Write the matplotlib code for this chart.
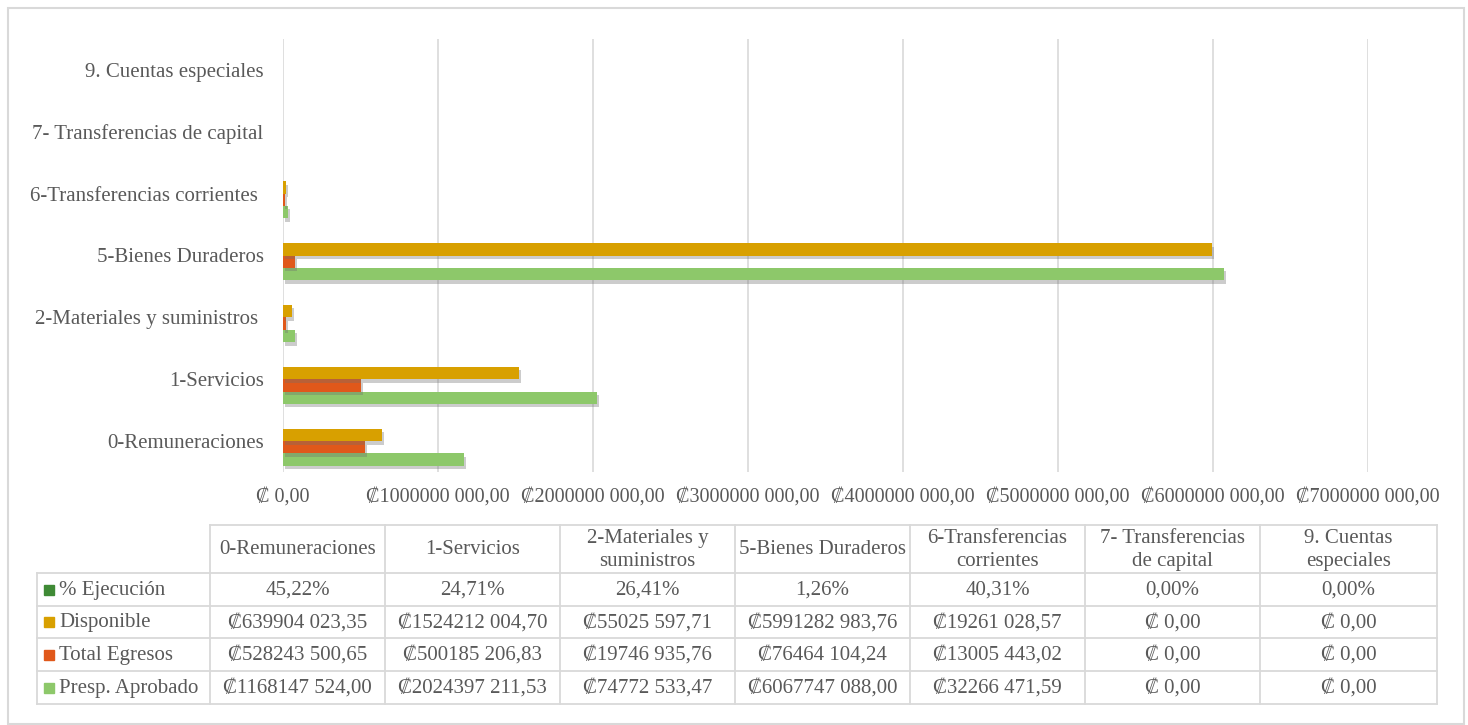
"""
Presupuesto por partida: aprobado, egresos, disponible y % de ejecucion
"""

import numpy as np
import matplotlib.pyplot as plt
import matplotlib.patheffects as pe
from matplotlib.patches import Rectangle

plt.rcParams['font.family'] = ['Liberation Serif', 'DejaVu Serif']

categorias = ['0-Remuneraciones', '1-Servicios', '2-Materiales y suministros ',
              '5-Bienes Duraderos', '6-Transferencias corrientes ',
              '7- Transferencias de capital', '9. Cuentas especiales']
encabezados = ['0-Remuneraciones', '1-Servicios', '2-Materiales y\nsuministros',
               '5-Bienes Duraderos', '6-Transferencias\ncorrientes',
               '7- Transferencias\nde capital', '9. Cuentas\nespeciales']

aprobado = [1168147524.00, 2024397211.53, 74772533.47, 6067747088.00, 32266471.59, 0.0, 0.0]
egresos = [528243500.65, 500185206.83, 19746935.76, 76464104.24, 13005443.02, 0.0, 0.0]
disponible = [639904023.35, 1524212004.70, 55025597.71, 5991282983.76, 19261028.57, 0.0, 0.0]
ejecucion = [45.22, 24.71, 26.41, 1.26, 40.31, 0.00, 0.00]

series = ['Presp. Aprobado', 'Total Egresos', 'Disponible', '% Ejecución']
colores = ['#8DC86A', '#E0581A', '#D8A000', '#3F8A35']
x_ticks = np.arange(0, 7e9 + 1, 1e9)

gris = '#595959'
linea = '#D9D9D9'
fs = 15


def colones(v):
    if v == 0:
        return '₡ 0,00'
    cents = int(round(v * 100))
    ent, dec = divmod(cents, 100)
    hi, lo = divmod(ent, 1000)
    return f'₡{hi} {lo:03d},{dec:02d}'


def porc(v):
    return f'{v:.2f}%'.replace('.', ',')


W, H = 1468, 725
fig = plt.figure(figsize=(W / 100, H / 100), dpi=100)

# chart area
ax = fig.add_axes([283 / W, 1 - 472 / H, (1368 - 283) / W, (472 - 39) / H])
y = np.arange(len(categorias))
h = 0.2
datos = [aprobado, egresos, disponible, ejecucion]
sombra = [pe.SimplePatchShadow(offset=(1.5, -2.5), shadow_rgbFace='#6f6f6f', alpha=0.35), pe.Normal()]
for i, (vals, c) in enumerate(zip(datos, colores)):
    ax.barh(y + (i - 1.5) * h, vals, height=h, color=c, path_effects=sombra, zorder=3)

ax.set_xlim(0, 7e9)
ax.set_ylim(-0.5, len(categorias) - 0.5)
ax.set_xticks(x_ticks)
ax.set_xticklabels([colones(v) for v in x_ticks])
ax.set_yticks(y)
ax.set_yticklabels(categorias)
ax.tick_params(axis='y', length=0, labelsize=fs, colors=gris, pad=14)
ax.tick_params(axis='x', length=0, labelsize=14.5, colors=gris, pad=11)
ax.grid(axis='x', color=linea, lw=1.2, zorder=0)
for s in ax.spines.values():
    s.set_visible(False)

# overlay for border + data table (pixel coordinates)
ov = fig.add_axes([0, 0, 1, 1], zorder=-1)
ov.set_xlim(0, W)
ov.set_ylim(H, 0)
ov.axis('off')
ov.add_patch(Rectangle((8, 8), 1456, 716, fill=False, ec=linea, lw=1.5))

tab = fig.add_axes([0, 0, 1, 1])
tab.set_xlim(0, W)
tab.set_ylim(H, 0)
tab.axis('off')
tab.patch.set_alpha(0)

col_x = [210 + 175 * k for k in range(8)]
col_x[-1] = 1437
row_y = [525, 573, 606, 638, 671, 704]
lab_x0 = 37

filas = [(series[3], colores[3], [porc(v) for v in ejecucion]),
         (series[2], colores[2], [colones(v) for v in disponible]),
         (series[1], colores[1], [colones(v) for v in egresos]),
         (series[0], colores[0], [colones(v) for v in aprobado])]

lw = 1.3
# horizontal lines
tab.plot([col_x[0], col_x[-1]], [row_y[0], row_y[0]], color=linea, lw=lw)
for yy in row_y[1:]:
    tab.plot([lab_x0, col_x[-1]], [yy, yy], color=linea, lw=lw)
# vertical lines
tab.plot([lab_x0, lab_x0], [row_y[1], row_y[-1]], color=linea, lw=lw)
for xx in col_x:
    tab.plot([xx, xx], [row_y[0], row_y[-1]], color=linea, lw=lw)

for k, t in enumerate(encabezados):
    tab.text((col_x[k] + col_x[k + 1]) / 2, (row_y[0] + row_y[1]) / 2 + 1, t,
             ha='center', va='center', fontsize=fs, color=gris, linespacing=1.25)

for r, (nombre, c, textos) in enumerate(filas):
    yc = (row_y[r + 1] + row_y[r + 2]) / 2
    tab.add_patch(Rectangle((44, yc - 5), 10, 10, color=c))
    tab.text(59, yc + 1, nombre, ha='left', va='center', fontsize=fs, color=gris)
    for k, t in enumerate(textos):
        tab.text((col_x[k] + col_x[k + 1]) / 2, yc + 1, t,
                 ha='center', va='center', fontsize=fs, color=gris)

plt.savefig('out.png', dpi=100)
